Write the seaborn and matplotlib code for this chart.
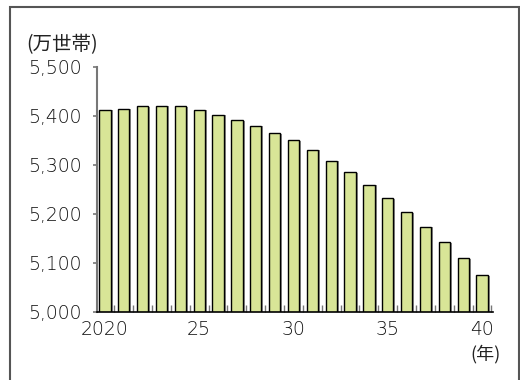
import matplotlib
matplotlib.use("Agg")
import matplotlib.pyplot as plt
import matplotlib.patheffects as pe
from matplotlib.patches import Rectangle
from matplotlib.ticker import FixedLocator, FuncFormatter
import seaborn as sns
import pandas as pd

years = list(range(2020, 2041))
households = [5413, 5415, 5420, 5421, 5420, 5413, 5403, 5391, 5380, 5365,
              5350, 5331, 5309, 5286, 5260, 5232, 5204, 5174, 5143, 5110, 5075]
year_labels = ["2020", "", "", "", "", "25", "", "", "", "", "30",
               "", "", "", "", "35", "", "", "", "", "40"]
y_ticks = [5000, 5100, 5200, 5300, 5400, 5500]
y_unit = "(万世帯)"
x_unit = "(年)"

sns.set_theme(style="white")
plt.rcParams["font.family"] = ["DejaVu Sans", "Noto Sans CJK JP"]
cjk = ["Noto Sans CJK JP", "DejaVu Sans"]

df = pd.DataFrame({"year": [str(y) for y in years], "value": households})

fig = plt.figure(figsize=(5.2, 3.8), dpi=100)
ax = fig.add_axes([0.1865, 0.179, 0.7615, 0.6447])

sns.barplot(data=df, x="year", y="value", color="#d8e597", saturation=1,
            width=0.6, edgecolor="black", linewidth=1.0, ax=ax)
for p in ax.patches:
    p.set_path_effects([pe.SimplePatchShadow(offset=(1.5, -0.5), shadow_rgbFace="#777777", alpha=0.8), pe.Normal()])

ax.set_xlim(-0.42, 20.58)
ax.set_ylim(5000, 5500)
ax.set_xlabel("")
ax.set_ylabel("")

ax.set_xticks(range(len(years)))
ax.set_xticklabels(year_labels, fontsize=13.5, fontweight="light")
ax.tick_params(axis="x", which="major", length=0, pad=6, colors="#111111")
ax.xaxis.set_minor_locator(FixedLocator([i + 0.5 for i in range(len(years))]))
ax.tick_params(axis="x", which="minor", direction="in", length=5, width=1,
               color="#777777", bottom=True)

ax.set_yticks(y_ticks)
ax.yaxis.set_major_formatter(FuncFormatter(lambda v, _: f"{int(v):,}"))
ax.tick_params(axis="y", which="major", direction="out", length=3, width=1.2,
               color="#777777", left=True, pad=8, labelsize=13.5, labelcolor="#111111")
for t in ax.get_yticklabels():
    t.set_fontweight("light")

for s in ["top", "right"]:
    ax.spines[s].set_visible(False)
ax.spines["left"].set_color("#777777")
ax.spines["left"].set_linewidth(1.5)
ax.spines["bottom"].set_color("black")
ax.spines["bottom"].set_linewidth(1.2)

fig.text(26 / 520, 1 - 45 / 380, y_unit, fontsize=14, va="center", ha="left",
         color="#222222", family=cjk)
fig.text(501 / 520, 1 - 354 / 380, x_unit, fontsize=13, va="center", ha="right",
         color="#222222", family=cjk)

fig.patches.append(Rectangle((10 / 520, -0.05), (519 - 10) / 520, 1.05 - 7 / 380,
                             transform=fig.transFigure, fill=False,
                             edgecolor="#555555", linewidth=1.5))

fig.savefig("out.png", dpi=100)
